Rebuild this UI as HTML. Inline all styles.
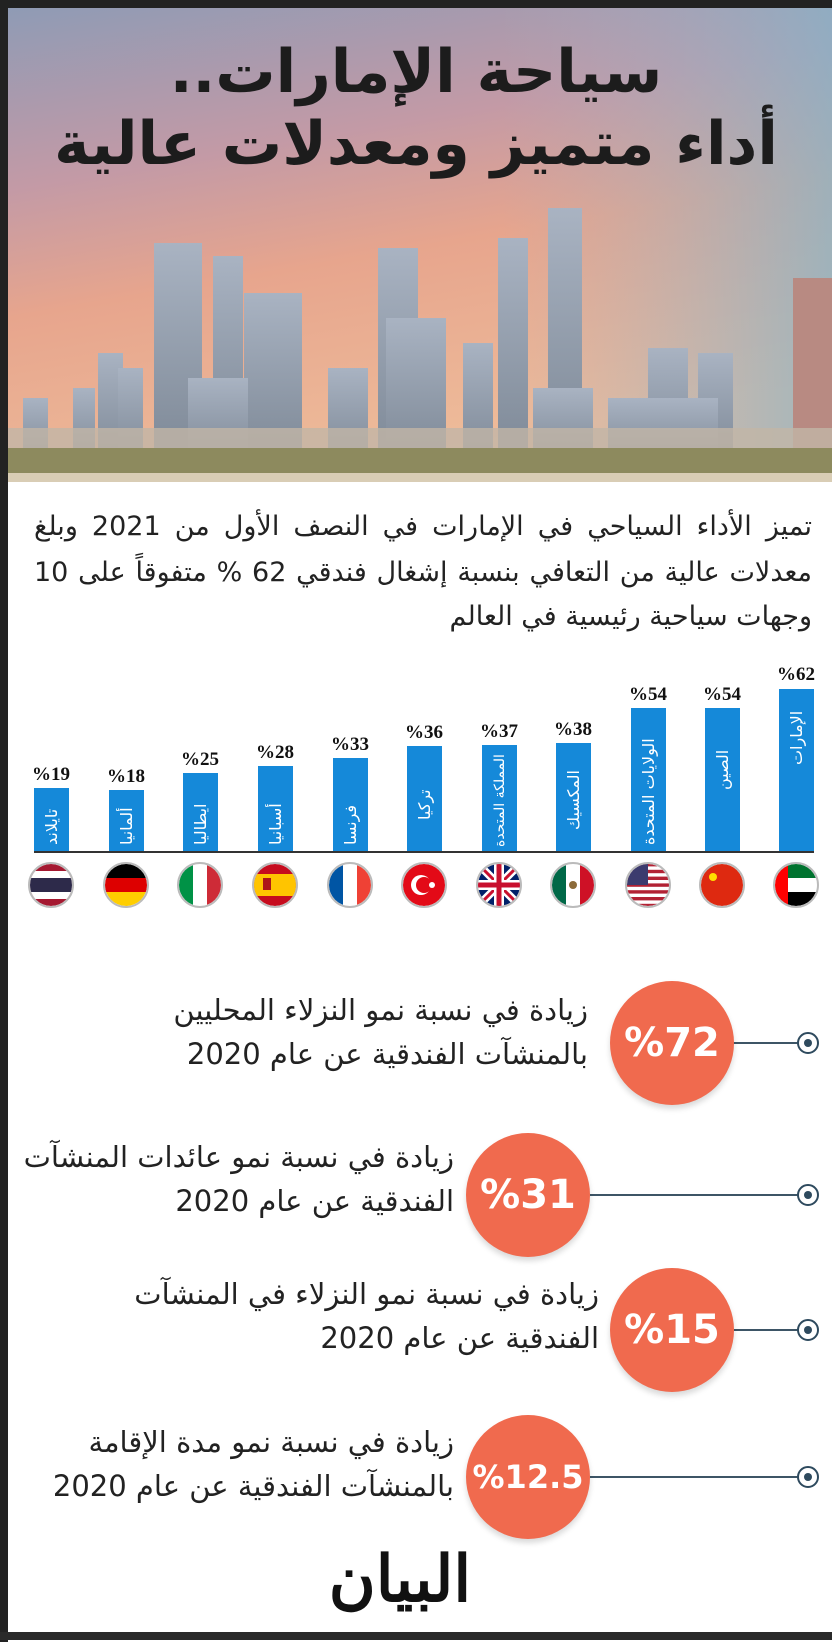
<!DOCTYPE html>
<html><head><meta charset="utf-8">
<style>
*{margin:0;padding:0;box-sizing:border-box}
body{width:832px;height:1642px;background:#fff;position:relative;overflow:hidden;font-family:"DejaVu Sans",sans-serif}
.abs{position:absolute}
.t{position:absolute;direction:rtl;white-space:nowrap;color:#222;font-size:27px;line-height:44px}
.j{text-align:justify;text-align-last:justify;width:778px}
.circ{position:absolute;width:124px;height:124px;border-radius:50%;background:#f06a4e;color:#fff;font-weight:bold;font-size:40px;text-align:center;line-height:124px;box-shadow:0 4px 6px rgba(0,0,0,.15);font-family:"DejaVu Sans",sans-serif}
.ln{position:absolute;height:2px;background:#3d5566}
.dot{position:absolute;width:22px;height:22px;border:2px solid #2e4a5e;border-radius:50%;background:#fff}
.dot:after{content:"";position:absolute;left:5px;top:5px;width:8px;height:8px;border-radius:50%;background:#2e4a5e}
</style></head><body>
<div class="abs" style="left:0;top:0;width:832px;height:8px;background:#222"></div>
<div class="abs" style="left:0;top:0;width:8px;height:1642px;background:#222"></div>
<div class="abs" style="left:0;top:1632px;width:832px;height:8px;background:#2a2a2a"></div>
<svg class="abs" style="left:8px;top:8px" width="824" height="474" viewBox="0 0 824 474">
<defs>
<linearGradient id="sky" x1="0" y1="0" x2="0.3" y2="1">
<stop offset="0" stop-color="#8f9bb5"/><stop offset="0.35" stop-color="#c39aa6"/><stop offset="0.6" stop-color="#e7a58d"/><stop offset="1" stop-color="#eebc9a"/></linearGradient>
<linearGradient id="sky2" x1="1" y1="0" x2="0" y2="0">
<stop offset="0" stop-color="#7fb4cc" stop-opacity=".7"/><stop offset="0.4" stop-color="#9fb0c8" stop-opacity="0"/></linearGradient>
<linearGradient id="bd" x1="0" y1="0" x2="0" y2="1"><stop offset="0" stop-color="#a9b3c2"/><stop offset="1" stop-color="#7d8896"/></linearGradient>
</defs>
<rect width="824" height="474" fill="url(#sky)"/>
<rect width="824" height="474" fill="url(#sky2)"/>
<g fill="url(#bd)">
<rect x="146" y="235" width="48" height="220"/><rect x="205" y="248" width="30" height="200"/>
<rect x="236" y="285" width="58" height="170"/><rect x="370" y="240" width="40" height="215"/>
<rect x="378" y="310" width="60" height="145"/><rect x="490" y="230" width="30" height="225"/>
<rect x="540" y="200" width="34" height="255"/><rect x="455" y="335" width="30" height="120"/>
<rect x="180" y="370" width="60" height="85"/><rect x="90" y="345" width="25" height="110"/>
<rect x="110" y="360" width="25" height="95"/><rect x="15" y="390" width="25" height="65"/>
<rect x="65" y="380" width="22" height="75"/><rect x="640" y="340" width="40" height="115"/>
<rect x="690" y="345" width="35" height="110"/><rect x="600" y="390" width="110" height="65"/>
<rect x="320" y="360" width="40" height="95"/><rect x="525" y="380" width="60" height="75"/>
</g>
<rect x="785" y="270" width="39" height="185" fill="#b88a82"/>
<rect x="0" y="420" width="824" height="35" fill="#c2b5a6" opacity=".8"/>
<rect x="0" y="440" width="824" height="34" fill="#8d8a5e"/>
<rect x="0" y="465" width="824" height="9" fill="#d9cdb5"/>
</svg>
<div class="abs" style="left:0;width:832px;top:36px;text-align:center;direction:rtl;font-weight:bold;font-size:60px;line-height:72px;color:#1c1c1c">سياحة الإمارات..<br>أداء متميز ومعدلات عالية</div>
<div class="t j" style="right:20px;top:505px;font-size:27px">تميز الأداء السياحي في الإمارات في النصف الأول من 2021 وبلغ</div>
<div class="t j" style="right:20px;top:551px;font-size:27px">معدلات عالية من التعافي بنسبة إشغال فندقي 62 % متفوقاً على 10</div>
<div class="t" style="right:20px;top:595px;font-size:27px">وجهات سياحية رئيسية في العالم</div>
<svg class="abs" style="left:0;top:640px" width="832" height="290">
<g font-family="Liberation Serif,serif" font-weight="bold" font-size="19" text-anchor="middle" fill="#111">
<rect x="34" y="148" width="35" height="64" fill="#1589d9"/><text x="51" y="140">%19</text>
<rect x="109" y="150" width="35" height="62" fill="#1589d9"/><text x="126" y="142">%18</text>
<rect x="183" y="133" width="35" height="79" fill="#1589d9"/><text x="200" y="125">%25</text>
<rect x="258" y="126" width="35" height="86" fill="#1589d9"/><text x="275" y="118">%28</text>
<rect x="333" y="118" width="35" height="94" fill="#1589d9"/><text x="350" y="110">%33</text>
<rect x="407" y="106" width="35" height="106" fill="#1589d9"/><text x="424" y="98">%36</text>
<rect x="482" y="105" width="35" height="107" fill="#1589d9"/><text x="499" y="97">%37</text>
<rect x="556" y="103" width="35" height="109" fill="#1589d9"/><text x="573" y="95">%38</text>
<rect x="631" y="68" width="35" height="144" fill="#1589d9"/><text x="648" y="60">%54</text>
<rect x="705" y="68" width="35" height="144" fill="#1589d9"/><text x="722" y="60">%54</text>
<rect x="779" y="49" width="35" height="163" fill="#1589d9"/><text x="796" y="40">%62</text>
</g>
<g font-family="DejaVu Sans,sans-serif" font-size="16" fill="#fff">
<text transform="translate(57,205) rotate(-90)">تايلاند</text>
<text transform="translate(132,205) rotate(-90)">ألمانيا</text>
<text transform="translate(206,205) rotate(-90)">ايطاليا</text>
<text transform="translate(281,205) rotate(-90)">أسبانيا</text>
<text transform="translate(356,205) rotate(-90)">فرنسا</text>
<text transform="translate(430,180) rotate(-90)">تركيا</text>
<text transform="translate(504,207) rotate(-90)" font-size="14">المملكة المتحدة</text>
<text transform="translate(579,190) rotate(-90)">المكسيك</text>
<text transform="translate(654,205) rotate(-90)">الولايات المتحدة</text>
<text transform="translate(728,150) rotate(-90)">الصين</text>
<text transform="translate(802,125) rotate(-90)">الإمارات</text>
</g>
<rect x="34" y="211" width="780" height="2" fill="#333"/>
<defs><clipPath id="c"><circle cx="0" cy="0" r="21"/></clipPath></defs>
<g transform="translate(51,245)" clip-path="url(#c)"><rect x="-22" y="-22" width="44" height="44" fill="#a51931"/><rect x="-22" y="-14" width="44" height="28" fill="#fff"/><rect x="-22" y="-7" width="44" height="14" fill="#2d2a4a"/></g>
<g transform="translate(126,245)" clip-path="url(#c)"><rect x="-22" y="-22" width="44" height="15" fill="#000"/><rect x="-22" y="-7" width="44" height="14" fill="#dd0000"/><rect x="-22" y="7" width="44" height="15" fill="#ffce00"/></g>
<g transform="translate(200,245)" clip-path="url(#c)"><rect x="-22" y="-22" width="15" height="44" fill="#009246"/><rect x="-7" y="-22" width="14" height="44" fill="#fff"/><rect x="7" y="-22" width="15" height="44" fill="#ce2b37"/></g>
<g transform="translate(275,245)" clip-path="url(#c)"><rect x="-22" y="-22" width="44" height="44" fill="#c60b1e"/><rect x="-22" y="-11" width="44" height="22" fill="#ffc400"/><rect x="-12" y="-7" width="8" height="12" fill="#ad1519"/></g>
<g transform="translate(350,245)" clip-path="url(#c)"><rect x="-22" y="-22" width="15" height="44" fill="#0055a4"/><rect x="-7" y="-22" width="14" height="44" fill="#fff"/><rect x="7" y="-22" width="15" height="44" fill="#ef4135"/></g>
<g transform="translate(424,245)" clip-path="url(#c)"><rect x="-22" y="-22" width="44" height="44" fill="#e30a17"/><circle cx="-3" cy="0" r="10" fill="#fff"/><circle cx="0" cy="0" r="8" fill="#e30a17"/><circle cx="8" cy="0" r="3" fill="#fff"/></g>
<g transform="translate(499,245)" clip-path="url(#c)"><rect x="-22" y="-22" width="44" height="44" fill="#012169"/><path d="M-22-22L22 22M22-22L-22 22" stroke="#fff" stroke-width="8"/><path d="M-22-22L22 22M22-22L-22 22" stroke="#c8102e" stroke-width="3"/><path d="M0-22V22M-22 0H22" stroke="#fff" stroke-width="10"/><path d="M0-22V22M-22 0H22" stroke="#c8102e" stroke-width="5"/></g>
<g transform="translate(573,245)" clip-path="url(#c)"><rect x="-22" y="-22" width="15" height="44" fill="#006847"/><rect x="-7" y="-22" width="14" height="44" fill="#fff"/><rect x="7" y="-22" width="15" height="44" fill="#ce1126"/><circle r="4" fill="#8c6b3a"/></g>
<g transform="translate(648,245)" clip-path="url(#c)"><rect x="-22" y="-22" width="44" height="44" fill="#fff"/><g fill="#b22234"><rect x="-22" y="-22" width="44" height="3.4"/><rect x="-22" y="-15.2" width="44" height="3.4"/><rect x="-22" y="-8.4" width="44" height="3.4"/><rect x="-22" y="-1.6" width="44" height="3.4"/><rect x="-22" y="5.2" width="44" height="3.4"/><rect x="-22" y="12" width="44" height="3.4"/><rect x="-22" y="18.8" width="44" height="3.4"/></g><rect x="-22" y="-22" width="22" height="22" fill="#3c3b6e"/></g>
<g transform="translate(722,245)" clip-path="url(#c)"><rect x="-22" y="-22" width="44" height="44" fill="#de2910"/><circle cx="-9" cy="-8" r="4" fill="#ffde00"/></g>
<g transform="translate(796,245)" clip-path="url(#c)"><rect x="-22" y="-22" width="44" height="15" fill="#00732f"/><rect x="-22" y="-7" width="44" height="14" fill="#fff"/><rect x="-22" y="7" width="44" height="15" fill="#000"/><rect x="-22" y="-22" width="14" height="44" fill="#ff0000"/></g>
<g fill="none" stroke="#bbb" stroke-width="2">
<circle cx="51" cy="245" r="22"/><circle cx="126" cy="245" r="22"/><circle cx="200" cy="245" r="22"/><circle cx="275" cy="245" r="22"/><circle cx="350" cy="245" r="22"/><circle cx="424" cy="245" r="22"/><circle cx="499" cy="245" r="22"/><circle cx="573" cy="245" r="22"/><circle cx="648" cy="245" r="22"/><circle cx="722" cy="245" r="22"/><circle cx="796" cy="245" r="22"/></g>
</svg>
<div class="ln" style="left:733px;top:1042px;width:70px"></div><div class="dot" style="left:797px;top:1032px"></div>
<div class="circ" style="left:610px;top:981px">%72</div>
<div class="t" style="right:244px;top:988px;font-size:29px">زيادة في نسبة نمو النزلاء المحليين<br>بالمنشآت الفندقية عن عام 2020</div>

<div class="ln" style="left:590px;top:1194px;width:213px"></div><div class="dot" style="left:797px;top:1184px"></div>
<div class="circ" style="left:466px;top:1133px">%31</div>
<div class="t" style="right:378px;top:1135px;font-size:29px">زيادة في نسبة نمو عائدات المنشآت<br>الفندقية عن عام 2020</div>

<div class="ln" style="left:734px;top:1329px;width:69px"></div><div class="dot" style="left:797px;top:1319px"></div>
<div class="circ" style="left:610px;top:1268px">%15</div>
<div class="t" style="right:233px;top:1272px;font-size:29px">زيادة في نسبة نمو النزلاء في المنشآت<br>الفندقية عن عام 2020</div>

<div class="ln" style="left:590px;top:1476px;width:213px"></div><div class="dot" style="left:797px;top:1466px"></div>
<div class="circ" style="left:466px;top:1415px;font-size:32px">%12.5</div>
<div class="t" style="right:378px;top:1420px;font-size:29px">زيادة في نسبة نمو مدة الإقامة<br>بالمنشآت الفندقية عن عام 2020</div>

<div class="abs" style="left:290px;width:220px;top:1535px;text-align:center;font-family:'DejaVu Serif',serif;font-weight:bold;font-size:64px;line-height:90px;color:#111;direction:rtl">البيان</div>
</body></html>
